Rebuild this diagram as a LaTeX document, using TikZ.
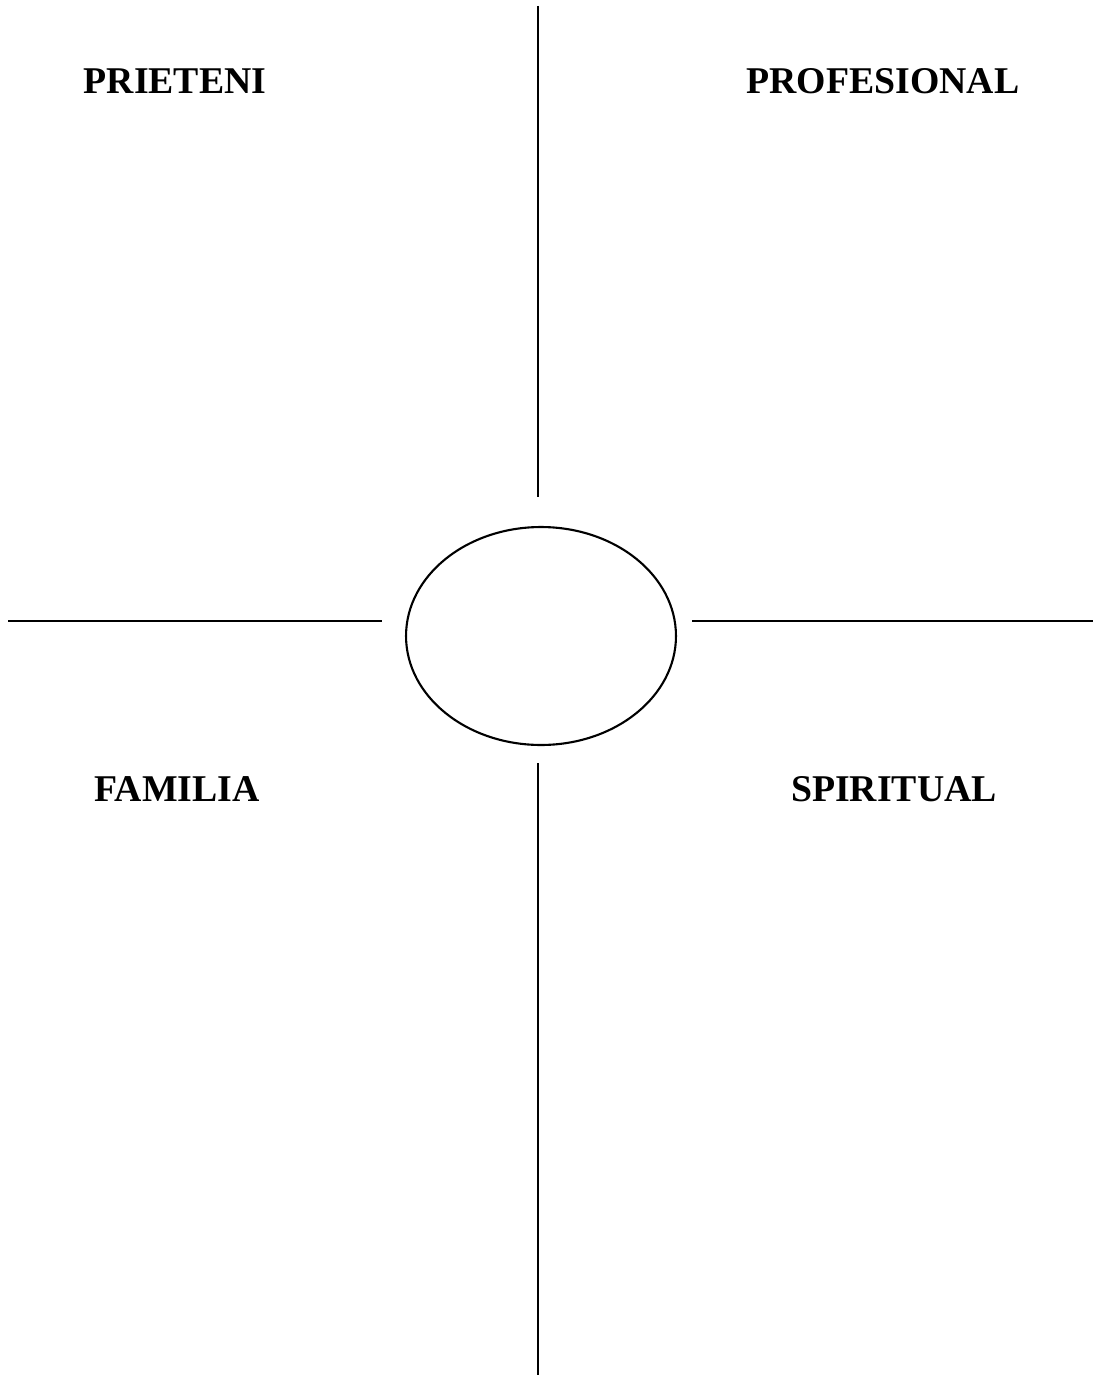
\documentclass[tikz,border=0pt]{standalone}
\usepackage{fontspec}
\setmainfont{Liberation Serif}
\usepackage{tikz}
\usetikzlibrary{shapes.geometric}

\begin{document}
\begin{tikzpicture}[x=0.02cm, y=-0.02cm]
  \tikzstyle{label}=[font=\fontsize{21.5}{26}\selectfont\bfseries, anchor=base, inner sep=0pt]
  \tikzstyle{rule}=[line width=1.2pt, color=black]

  \useasboundingbox (0,0) rectangle (1093,1375);

  \node[ellipse, draw, line width=1.2pt, minimum width=5.4cm, minimum height=4.36cm, inner sep=0pt] (core) at (541,636) {};

  \node[label] (friends) at (175,94) {PRIETENI};
  \node[label] (work) at (883,94) {PROFESIONAL};
  \node[label] (family) at (177,801) {FAMILIA};
  \node[label] (spirit) at (894,801) {SPIRITUAL};

  \coordinate (top) at (538,6);
  \coordinate (topend) at (538,497);
  \coordinate (bottom) at (538,763);
  \coordinate (bottomend) at (538,1375);
  \coordinate (left) at (8,621);
  \coordinate (leftend) at (382,621);
  \coordinate (right) at (692,621);
  \coordinate (rightend) at (1093,621);

  \draw[rule] (top) -- (topend);
  \draw[rule] (bottom) -- (bottomend);
  \draw[rule] (left) -- (leftend);
  \draw[rule] (right) -- (rightend);
\end{tikzpicture}
\end{document}
